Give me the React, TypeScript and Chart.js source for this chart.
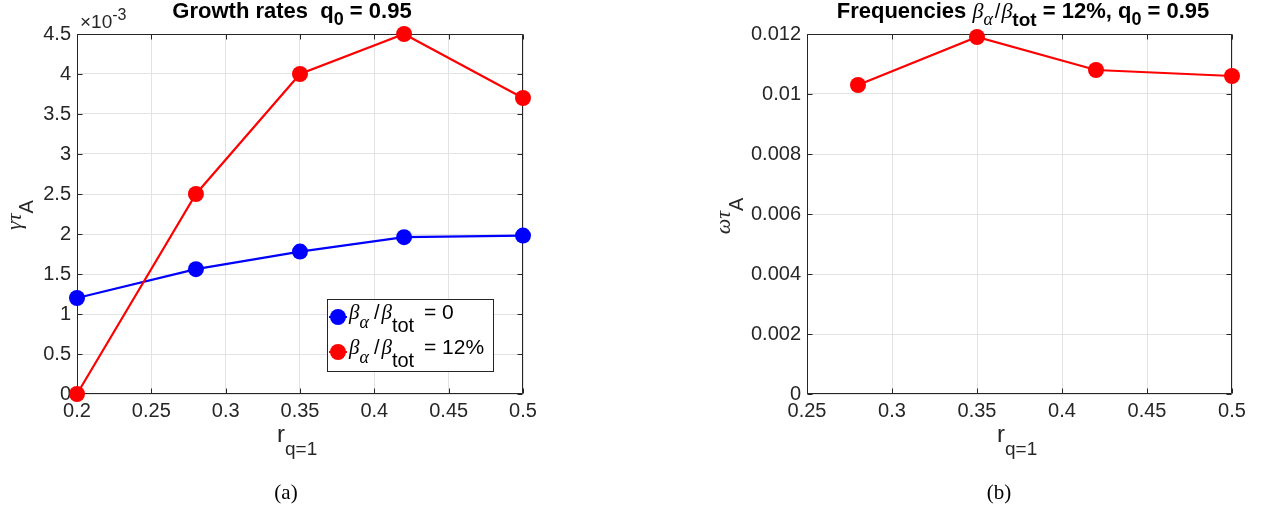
import React, { useEffect, useRef } from "react";
import { Chart, registerables } from "chart.js";

Chart.register(...registerables);

// ---------- data ----------
const rLeft = [0.2, 0.28, 0.35, 0.42, 0.5];
const gammaBeta0 = [0.0012, 0.00156, 0.00178, 0.00196, 0.00198];
const gammaBeta12 = [0.0, 0.0025, 0.004, 0.0045, 0.0037];
const rRight = [0.28, 0.35, 0.42, 0.5];
const omegaBeta12 = [0.0103, 0.0119, 0.0108, 0.0106];

const legendLabels = ["= 0", "= 12%"];

const SANS = "'Liberation Sans', Arial, Helvetica, sans-serif";
const SERIF = "'Liberation Serif', 'DejaVu Serif', serif";
const AXIS_COLOR = "#262626";
const GRID_COLOR = "#e3e3e3";
const BLUE = "#0000ff";
const RED = "#ff0000";
const TICK_SIZE = 20;

type Run = { t: string; f: string; dy?: number; c?: string; pre?: number };

function runsWidth(ctx: CanvasRenderingContext2D, runs: Run[]) {
  let w = 0;
  for (const r of runs) {
    ctx.font = r.f;
    w += (r.pre || 0) + ctx.measureText(r.t).width;
  }
  return w;
}

function drawRuns(
  ctx: CanvasRenderingContext2D,
  runs: Run[],
  x: number,
  y: number,
  align: "left" | "center",
  rotate = false
) {
  ctx.save();
  ctx.textBaseline = "alphabetic";
  ctx.textAlign = "left";
  const w = runsWidth(ctx, runs);
  ctx.translate(x, y);
  if (rotate) ctx.rotate(-Math.PI / 2);
  let cx = align === "center" ? -w / 2 : 0;
  for (const r of runs) {
    ctx.font = r.f;
    ctx.fillStyle = r.c || "#000";
    cx += r.pre || 0;
    ctx.fillText(r.t, cx, r.dy || 0);
    cx += ctx.measureText(r.t).width;
  }
  ctx.restore();
}

const framePlugin = {
  id: "matlabFrame",
  beforeDatasetsDraw(chart: any) {
    const { ctx, chartArea } = chart;
    const { left, right, top, bottom } = chartArea;
    const xs = chart.scales.x;
    const ys = chart.scales.y;
    ctx.save();
    ctx.strokeStyle = AXIS_COLOR;
    ctx.lineWidth = 1;
    const L = Math.round(left) + 0.5;
    const R = Math.round(right) - 0.5;
    const T = Math.round(top) + 0.5;
    const B = Math.round(bottom) - 0.5;
    ctx.beginPath();
    ctx.rect(L, T, R - L, B - T);
    const tl = 5;
    for (const t of xs.ticks) {
      const px = Math.round(xs.getPixelForValue(t.value)) + 0.5;
      ctx.moveTo(px, B);
      ctx.lineTo(px, B - tl);
      ctx.moveTo(px, T);
      ctx.lineTo(px, T + tl);
    }
    for (const t of ys.ticks) {
      const py = Math.round(ys.getPixelForValue(t.value)) + 0.5;
      ctx.moveTo(L, py);
      ctx.lineTo(L + tl, py);
      ctx.moveTo(R, py);
      ctx.lineTo(R - tl, py);
    }
    ctx.stroke();
    ctx.restore();
  },
};

function fmt(v: number, digits: number) {
  return String(parseFloat(v.toFixed(digits)));
}

function makeOptions(cfg: {
  xMin: number;
  xMax: number;
  xStep: number;
  yMin: number;
  yMax: number;
  yStep: number;
  yFmt: (v: number) => string;
  yWidth: number;
  padRight: number;
}) {
  return {
    responsive: false,
    animation: false as const,
    events: [] as any[],
    layout: {
      autoPadding: false,
      padding: { left: 0, top: 34, right: cfg.padRight, bottom: 0 },
    },
    plugins: {
      legend: { display: false },
      tooltip: { enabled: false },
      title: { display: false },
    },
    scales: {
      x: {
        type: "linear" as const,
        min: cfg.xMin,
        max: cfg.xMax,
        grid: { color: GRID_COLOR, drawTicks: false, lineWidth: 1 },
        border: { display: false },
        ticks: {
          stepSize: cfg.xStep,
          padding: 5,
          color: AXIS_COLOR,
          font: { family: SANS, size: TICK_SIZE },
          maxRotation: 0,
          autoSkip: false,
          callback: (v: any) => fmt(Number(v), 3),
        },
        afterFit: (scale: any) => {
          scale.height = 115;
        },
      },
      y: {
        type: "linear" as const,
        min: cfg.yMin,
        max: cfg.yMax,
        grid: { color: GRID_COLOR, drawTicks: false, lineWidth: 1 },
        border: { display: false },
        ticks: {
          stepSize: cfg.yStep,
          padding: 6,
          color: AXIS_COLOR,
          font: { family: SANS, size: TICK_SIZE },
          autoSkip: false,
          callback: (v: any) => cfg.yFmt(Number(v)),
        },
        afterFit: (scale: any) => {
          scale.width = cfg.yWidth;
        },
      },
    },
  };
}

function lineDataset(label: string, xs: number[], ys: number[], color: string, order: number) {
  return {
    label,
    data: xs.map((x, i) => ({ x, y: ys[i] })),
    borderColor: color,
    backgroundColor: color,
    borderWidth: 2.2,
    pointRadius: 8,
    pointHoverRadius: 8,
    pointBorderWidth: 0,
    pointBackgroundColor: color,
    pointBorderColor: color,
    tension: 0,
    clip: false as any,
    order,
  };
}

function legendRuns(value: string): Run[] {
  return [
    { t: "β", f: `italic 21px ${SERIF}` },
    { t: "α", f: `italic 18px ${SERIF}`, dy: 9 },
    { t: "/", f: `20px ${SANS}`, pre: 5 },
    { t: "β", f: `italic 21px ${SERIF}`, pre: 2 },
    { t: "tot", f: `20px ${SANS}`, dy: 13 },
    { t: " " + value, f: `21px ${SANS}`, pre: 4 },
  ];
}

export default function App() {
  const leftRef = useRef<HTMLCanvasElement | null>(null);
  const rightRef = useRef<HTMLCanvasElement | null>(null);

  useEffect(() => {
    const textLeft = {
      id: "textLeft",
      afterDraw(chart: any) {
        const ctx = chart.ctx as CanvasRenderingContext2D;
        // title
        drawRuns(
          ctx,
          [
            { t: "Growth rates  q", f: `bold 22px ${SANS}` },
            { t: "0", f: `bold 18px ${SANS}`, dy: 7 },
            { t: " = 0.95", f: `bold 22px ${SANS}` },
          ],
          292,
          18,
          "center"
        );
        // exponent
        drawRuns(
          ctx,
          [
            { t: "×10", f: `19px ${SANS}`, c: AXIS_COLOR },
            { t: "-3", f: `16px ${SANS}`, dy: -8, c: AXIS_COLOR },
          ],
          80,
          28,
          "left"
        );
        // y label
        drawRuns(
          ctx,
          [
            { t: "γτ", f: `italic 22px ${SERIF}`, c: AXIS_COLOR },
            { t: "A", f: `20px ${SANS}`, dy: 12, c: AXIS_COLOR },
          ],
          21,
          215,
          "center",
          true
        );
        // x label
        drawRuns(
          ctx,
          [
            { t: "r", f: `24px ${SANS}`, c: AXIS_COLOR },
            { t: "q=1", f: `19px ${SANS}`, dy: 13, c: AXIS_COLOR },
          ],
          277,
          442,
          "left"
        );
        // subplot label
        drawRuns(ctx, [{ t: "(a)", f: `21px ${SERIF}` }], 286, 499, "center");
        // legend
        ctx.save();
        ctx.fillStyle = "#fff";
        ctx.fillRect(327, 299, 166, 72);
        ctx.strokeStyle = "#262626";
        ctx.lineWidth = 1;
        ctx.strokeRect(327.5, 299.5, 166, 72);
        const colors = [BLUE, RED];
        const rowsY = [317, 352];
        for (let i = 0; i < 2; i++) {
          ctx.fillStyle = colors[i];
          ctx.beginPath();
          ctx.arc(338, rowsY[i], 8, 0, Math.PI * 2);
          ctx.fill();
          ctx.strokeStyle = colors[i];
          ctx.lineWidth = 2;
          ctx.beginPath();
          ctx.moveTo(329, rowsY[i]);
          ctx.lineTo(347, rowsY[i]);
          ctx.stroke();
          drawRuns(ctx, legendRuns(legendLabels[i]), 349, rowsY[i] + 2, "left");
        }
        ctx.restore();
      },
    };

    const textRight = {
      id: "textRight",
      afterDraw(chart: any) {
        const ctx = chart.ctx as CanvasRenderingContext2D;
        const ox = 631;
        drawRuns(
          ctx,
          [
            { t: "Frequencies ", f: `bold 22px ${SANS}` },
            { t: "β", f: `italic 22px ${SERIF}` },
            { t: "α", f: `italic 18px ${SERIF}`, dy: 7 },
            { t: "/", f: `20px ${SANS}`, pre: 2 },
            { t: "β", f: `italic 22px ${SERIF}`, pre: 1 },
            { t: "tot", f: `bold 19px ${SANS}`, dy: 8 },
            { t: " = 12%, q", f: `bold 22px ${SANS}` },
            { t: "0", f: `bold 18px ${SANS}`, dy: 7 },
            { t: " = 0.95", f: `bold 22px ${SANS}` },
          ],
          1023 - ox,
          18,
          "center"
        );
        drawRuns(
          ctx,
          [
            { t: "ωτ", f: `italic 22px ${SERIF}`, c: AXIS_COLOR },
            { t: "A", f: `20px ${SANS}`, dy: 13, c: AXIS_COLOR },
          ],
          730 - ox,
          216,
          "center",
          true
        );
        drawRuns(
          ctx,
          [
            { t: "r", f: `24px ${SANS}`, c: AXIS_COLOR },
            { t: "q=1", f: `19px ${SANS}`, dy: 13, c: AXIS_COLOR },
          ],
          997 - ox,
          442,
          "left"
        );
        drawRuns(ctx, [{ t: "(b)", f: `21px ${SERIF}` }], 999 - ox, 499, "center");
      },
    };

    const left = new Chart(leftRef.current!, {
      type: "line",
      data: {
        datasets: [
          lineDataset("β_α/β_tot = 0", rLeft, gammaBeta0, BLUE, 1),
          lineDataset("β_α/β_tot = 12%", rLeft, gammaBeta12, RED, 0),
        ],
      },
      options: makeOptions({
        xMin: 0.2,
        xMax: 0.5,
        xStep: 0.05,
        yMin: 0,
        yMax: 0.0045,
        yStep: 0.0005,
        yFmt: (v) => fmt(v * 1000, 3),
        yWidth: 77,
        padRight: 631 - 523,
      }) as any,
      plugins: [framePlugin, textLeft],
    });

    const right = new Chart(rightRef.current!, {
      type: "line",
      data: {
        datasets: [lineDataset("β_α/β_tot = 12%", rRight, omegaBeta12, RED, 0)],
      },
      options: makeOptions({
        xMin: 0.25,
        xMax: 0.5,
        xStep: 0.05,
        yMin: 0,
        yMax: 0.012,
        yStep: 0.002,
        yFmt: (v) => fmt(v, 4),
        yWidth: 807 - 631,
        padRight: 632 - (1232 - 631),
      }) as any,
      plugins: [framePlugin, textRight],
    });

    return () => {
      left.destroy();
      right.destroy();
    };
  }, []);

  return (
    <div
      style={{
        position: "fixed",
        left: 0,
        top: 0,
        width: 1263,
        height: 509,
        background: "#fff",
      }}
    >
      <canvas
        ref={leftRef}
        width={631}
        height={509}
        style={{ position: "absolute", left: 0, top: 0, width: 631, height: 509 }}
      />
      <canvas
        ref={rightRef}
        width={632}
        height={509}
        style={{ position: "absolute", left: 631, top: 0, width: 632, height: 509 }}
      />
    </div>
  );
}
